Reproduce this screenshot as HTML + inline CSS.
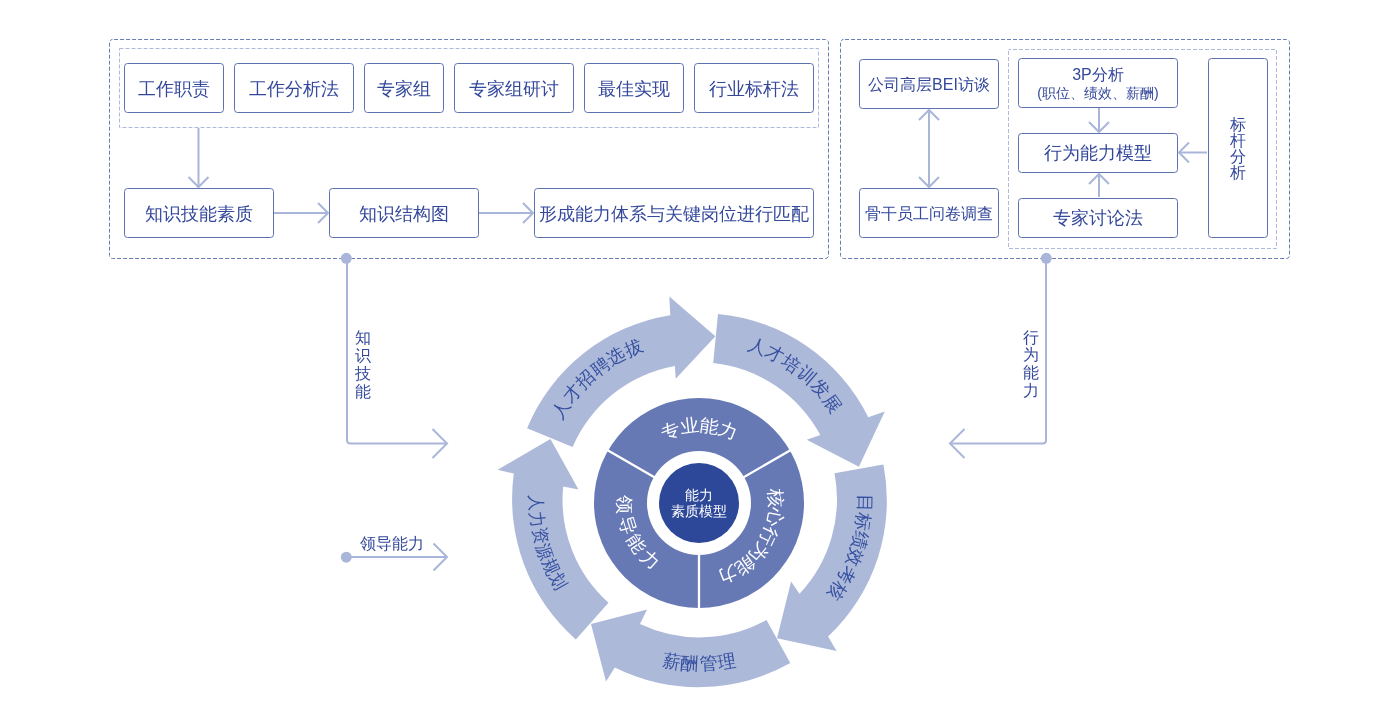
<!DOCTYPE html>
<html><head><meta charset="utf-8"><style>
html,body{margin:0;padding:0;background:#fff;width:1400px;height:705px;overflow:hidden}
svg{display:block;will-change:transform;font-family:"Liberation Sans",sans-serif}
</style></head><body>
<svg width="1400" height="705" viewBox="0 0 1400 705">
<defs></defs>
<rect x="109.5" y="39.5" width="719" height="219" rx="3" fill="none" stroke="#6a7cb6" stroke-width="1" stroke-dasharray="4 2" stroke-dashoffset="4.4"/>
<rect x="840.5" y="39.5" width="449" height="219" rx="3" fill="none" stroke="#6a7cb6" stroke-width="1" stroke-dasharray="4 2" stroke-dashoffset="4.43"/>
<rect x="119.5" y="48.5" width="699" height="79" fill="none" stroke="#aeb8da" stroke-width="1" stroke-dasharray="4 2"/>
<rect x="1008.5" y="49.5" width="268" height="199" fill="none" stroke="#aeb8da" stroke-width="1" stroke-dasharray="4 2" stroke-dashoffset="1.5"/>
<rect x="124.5" y="63.5" width="99" height="49" rx="3" fill="#fff" stroke="#5d70b0" stroke-width="1"/>
<text x="174.0" y="88.8" font-size="18" fill="#34489b" text-anchor="middle" dominant-baseline="central" >工作职责</text>
<rect x="234.5" y="63.5" width="119" height="49" rx="3" fill="#fff" stroke="#5d70b0" stroke-width="1"/>
<text x="294.0" y="88.8" font-size="18" fill="#34489b" text-anchor="middle" dominant-baseline="central" >工作分析法</text>
<rect x="364.5" y="63.5" width="79" height="49" rx="3" fill="#fff" stroke="#5d70b0" stroke-width="1"/>
<text x="404.0" y="88.8" font-size="18" fill="#34489b" text-anchor="middle" dominant-baseline="central" >专家组</text>
<rect x="454.5" y="63.5" width="119" height="49" rx="3" fill="#fff" stroke="#5d70b0" stroke-width="1"/>
<text x="514.0" y="88.8" font-size="18" fill="#34489b" text-anchor="middle" dominant-baseline="central" >专家组研讨</text>
<rect x="584.5" y="63.5" width="99" height="49" rx="3" fill="#fff" stroke="#5d70b0" stroke-width="1"/>
<text x="634.0" y="88.8" font-size="18" fill="#34489b" text-anchor="middle" dominant-baseline="central" >最佳实现</text>
<rect x="694.5" y="63.5" width="119" height="49" rx="3" fill="#fff" stroke="#5d70b0" stroke-width="1"/>
<text x="754.0" y="88.8" font-size="18" fill="#34489b" text-anchor="middle" dominant-baseline="central" >行业标杆法</text>
<rect x="124.5" y="188.5" width="149" height="49" rx="3" fill="#fff" stroke="#5d70b0" stroke-width="1"/>
<text x="199.0" y="213.6" font-size="18" fill="#34489b" text-anchor="middle" dominant-baseline="central" >知识技能素质</text>
<rect x="329.5" y="188.5" width="149" height="49" rx="3" fill="#fff" stroke="#5d70b0" stroke-width="1"/>
<text x="404.0" y="213.6" font-size="18" fill="#34489b" text-anchor="middle" dominant-baseline="central" >知识结构图</text>
<rect x="534.5" y="188.5" width="279" height="49" rx="3" fill="#fff" stroke="#5d70b0" stroke-width="1"/>
<text x="674.0" y="213.6" font-size="18" fill="#34489b" text-anchor="middle" dominant-baseline="central" >形成能力体系与关键岗位进行匹配</text>
<line x1="198.5" y1="128" x2="198.5" y2="187" stroke="#aab6d9" stroke-width="2"/>
<polyline points="188.5,177 198.5,187 208.5,177" fill="none" stroke="#aab6d9" stroke-width="2"/>
<line x1="274" y1="213" x2="328" y2="213" stroke="#aab6d9" stroke-width="2"/>
<polyline points="318,223 328,213 318,203" fill="none" stroke="#aab6d9" stroke-width="2"/>
<line x1="479" y1="213" x2="533" y2="213" stroke="#aab6d9" stroke-width="2"/>
<polyline points="523,223 533,213 523,203" fill="none" stroke="#aab6d9" stroke-width="2"/>
<rect x="859.5" y="59.5" width="139" height="49" rx="3" fill="#fff" stroke="#5d70b0" stroke-width="1"/>
<text x="929" y="84" font-size="16" fill="#34489b" text-anchor="middle" dominant-baseline="central" >公司高层BEI访谈</text>
<rect x="859.5" y="188.5" width="139" height="49" rx="3" fill="#fff" stroke="#5d70b0" stroke-width="1"/>
<text x="929" y="213" font-size="16" fill="#34489b" text-anchor="middle" dominant-baseline="central" >骨干员工问卷调查</text>
<line x1="929" y1="110" x2="929" y2="187" stroke="#aab6d9" stroke-width="2"/>
<polyline points="939,120 929,110 919,120" fill="none" stroke="#aab6d9" stroke-width="2"/>
<polyline points="919,177 929,187 939,177" fill="none" stroke="#aab6d9" stroke-width="2"/>
<rect x="1018.5" y="58.5" width="159" height="49" rx="3" fill="#fff" stroke="#5d70b0" stroke-width="1"/>
<text x="1098" y="74.5" font-size="16" fill="#34489b" text-anchor="middle" dominant-baseline="central" >3P分析</text>
<text x="1098" y="93" font-size="14" fill="#34489b" text-anchor="middle" dominant-baseline="central" >(职位、绩效、薪酬)</text>
<rect x="1018.5" y="133.5" width="159" height="39" rx="3" fill="#fff" stroke="#5d70b0" stroke-width="1"/>
<text x="1098" y="153" font-size="18" fill="#34489b" text-anchor="middle" dominant-baseline="central" >行为能力模型</text>
<rect x="1018.5" y="198.5" width="159" height="39" rx="3" fill="#fff" stroke="#5d70b0" stroke-width="1"/>
<text x="1098" y="218" font-size="18" fill="#34489b" text-anchor="middle" dominant-baseline="central" >专家讨论法</text>
<rect x="1208.5" y="58.5" width="59" height="179" rx="3" fill="#fff" stroke="#5d70b0" stroke-width="1"/>
<text x="1238" y="124" font-size="16" fill="#34489b" text-anchor="middle" dominant-baseline="central" >标</text>
<text x="1238" y="140" font-size="16" fill="#34489b" text-anchor="middle" dominant-baseline="central" >杆</text>
<text x="1238" y="156" font-size="16" fill="#34489b" text-anchor="middle" dominant-baseline="central" >分</text>
<text x="1238" y="172" font-size="16" fill="#34489b" text-anchor="middle" dominant-baseline="central" >析</text>
<line x1="1099" y1="108" x2="1099" y2="132" stroke="#aab6d9" stroke-width="2"/>
<polyline points="1089,122 1099,132 1109,122" fill="none" stroke="#aab6d9" stroke-width="2"/>
<line x1="1099" y1="174" x2="1099" y2="197" stroke="#aab6d9" stroke-width="2"/>
<polyline points="1109,184 1099,174 1089,184" fill="none" stroke="#aab6d9" stroke-width="2"/>
<line x1="1179" y1="152.5" x2="1207" y2="152.5" stroke="#aab6d9" stroke-width="2"/>
<polyline points="1189,142.5 1179,152.5 1189,162.5" fill="none" stroke="#aab6d9" stroke-width="2"/>
<path d="M347,258 V440 Q347,443.5 350.5,443.5 H447" fill="none" stroke="#aab6d9" stroke-width="2"/>
<polyline points="432.5,458.0 447,443.5 432.5,429.0" fill="none" stroke="#aab6d9" stroke-width="2"/>
<circle cx="346.3" cy="258.3" r="5.5" fill="#aab6d9"/>
<text x="363" y="337" font-size="16" fill="#34489b" text-anchor="middle" dominant-baseline="central" >知</text>
<text x="363" y="355" font-size="16" fill="#34489b" text-anchor="middle" dominant-baseline="central" >识</text>
<text x="363" y="373" font-size="16" fill="#34489b" text-anchor="middle" dominant-baseline="central" >技</text>
<text x="363" y="391" font-size="16" fill="#34489b" text-anchor="middle" dominant-baseline="central" >能</text>
<path d="M1046,258 V440 Q1046,443.5 1042.5,443.5 H950" fill="none" stroke="#aab6d9" stroke-width="2"/>
<polyline points="964.5,429.0 950,443.5 964.5,458.0" fill="none" stroke="#aab6d9" stroke-width="2"/>
<circle cx="1046.3" cy="258.3" r="5.5" fill="#aab6d9"/>
<text x="1031" y="337.0" font-size="16" fill="#34489b" text-anchor="middle" dominant-baseline="central" >行</text>
<text x="1031" y="354.7" font-size="16" fill="#34489b" text-anchor="middle" dominant-baseline="central" >为</text>
<text x="1031" y="372.4" font-size="16" fill="#34489b" text-anchor="middle" dominant-baseline="central" >能</text>
<text x="1031" y="390.1" font-size="16" fill="#34489b" text-anchor="middle" dominant-baseline="central" >力</text>
<line x1="346" y1="557" x2="447" y2="557" stroke="#aab6d9" stroke-width="2"/>
<polyline points="433.5,570.5 447,557 433.5,543.5" fill="none" stroke="#aab6d9" stroke-width="2"/>
<circle cx="346.3" cy="557.2" r="5.5" fill="#aab6d9"/>
<text x="391.5" y="543.5" font-size="16" fill="#34489b" text-anchor="middle" dominant-baseline="central" >领导能力</text>
<path d="M527.1,428.2 A187,187 0 0 1 670.3,315.2 L669.3,296.5 L715.4,336.2 L675.7,378.7 L674.9,366 A138,138 0 0 0 572.6,446.9 Z" fill="#adb9d9"/>
<path d="M718,314 A187,187 0 0 1 868.3,417.3 L884.8,411.4 L858.9,466.7 L806.7,439.8 L820.3,435 A138,138 0 0 0 713.2,363.1 Z" fill="#adb9d9"/>
<path d="M883.4,464.6 A187,187 0 0 1 828.1,636.6 L836.6,651.1 L777,638.3 L791.1,581.6 L799.5,593.7 A138,138 0 0 0 834.5,473.2 Z" fill="#adb9d9"/>
<path d="M790.3,663 A187,187 0 0 1 614.8,667.4 L606,681.5 L591,624.1 L647.1,609.5 L640,624.1 A138,138 0 0 0 766.5,619.9 Z" fill="#adb9d9"/>
<path d="M575.8,639.4 A187,187 0 0 1 513.8,473.6 L497.7,469.7 L550.4,439.1 L578.5,489.4 L563.2,486.4 A138,138 0 0 0 608.5,602.7 Z" fill="#adb9d9"/>
<text transform="translate(560.75,409.02) rotate(-56.65) scale(1.0,1)" font-size="18" fill="#3550a0" text-anchor="middle" dominant-baseline="central">人</text>
<text transform="translate(572.24,393.60) rotate(-49.99) scale(1.0,1)" font-size="18" fill="#3550a0" text-anchor="middle" dominant-baseline="central">才</text>
<text transform="translate(585.43,379.61) rotate(-43.33) scale(1.0,1)" font-size="18" fill="#3550a0" text-anchor="middle" dominant-baseline="central">招</text>
<text transform="translate(600.16,367.25) rotate(-36.67) scale(1.0,1)" font-size="18" fill="#3550a0" text-anchor="middle" dominant-baseline="central">聘</text>
<text transform="translate(616.22,356.69) rotate(-30.01) scale(1.0,1)" font-size="18" fill="#3550a0" text-anchor="middle" dominant-baseline="central">选</text>
<text transform="translate(633.40,348.05) rotate(-23.35) scale(1.0,1)" font-size="18" fill="#3550a0" text-anchor="middle" dominant-baseline="central">拔</text>
<text transform="translate(757.15,346.12) rotate(20.70) scale(1.0,1)" font-size="18" fill="#3550a0" text-anchor="middle" dominant-baseline="central">人</text>
<text transform="translate(774.65,353.93) rotate(27.38) scale(1.0,1)" font-size="18" fill="#3550a0" text-anchor="middle" dominant-baseline="central">才</text>
<text transform="translate(791.13,363.72) rotate(34.06) scale(1.0,1)" font-size="18" fill="#3550a0" text-anchor="middle" dominant-baseline="central">培</text>
<text transform="translate(806.36,375.36) rotate(40.74) scale(1.0,1)" font-size="18" fill="#3550a0" text-anchor="middle" dominant-baseline="central">训</text>
<text transform="translate(820.13,388.70) rotate(47.42) scale(1.0,1)" font-size="18" fill="#3550a0" text-anchor="middle" dominant-baseline="central">发</text>
<text transform="translate(832.25,403.54) rotate(54.10) scale(1.0,1)" font-size="18" fill="#3550a0" text-anchor="middle" dominant-baseline="central">展</text>
<text transform="translate(864.47,502.89) rotate(91.00) scale(1.0,1)" font-size="18" fill="#3550a0" text-anchor="middle" dominant-baseline="central">目</text>
<text transform="translate(863.11,521.43) rotate(97.44) scale(1.0,1)" font-size="18" fill="#3550a0" text-anchor="middle" dominant-baseline="central">标</text>
<text transform="translate(859.67,539.70) rotate(103.88) scale(1.0,1)" font-size="18" fill="#3550a0" text-anchor="middle" dominant-baseline="central">绩</text>
<text transform="translate(854.20,557.47) rotate(110.32) scale(1.0,1)" font-size="18" fill="#3550a0" text-anchor="middle" dominant-baseline="central">效</text>
<text transform="translate(846.78,574.52) rotate(116.76) scale(1.0,1)" font-size="18" fill="#3550a0" text-anchor="middle" dominant-baseline="central">考</text>
<text transform="translate(837.48,590.62) rotate(123.20) scale(1.0,1)" font-size="18" fill="#3550a0" text-anchor="middle" dominant-baseline="central">核</text>
<text transform="translate(671.52,661.68) rotate(9.64) scale(1.0,1)" font-size="18" fill="#3550a0" text-anchor="middle" dominant-baseline="central">薪</text>
<text transform="translate(689.80,663.74) rotate(3.22) scale(1.0,1)" font-size="18" fill="#3550a0" text-anchor="middle" dominant-baseline="central">酬</text>
<text transform="translate(708.20,663.74) rotate(-3.22) scale(1.0,1)" font-size="18" fill="#3550a0" text-anchor="middle" dominant-baseline="central">管</text>
<text transform="translate(726.48,661.68) rotate(-9.64) scale(1.0,1)" font-size="18" fill="#3550a0" text-anchor="middle" dominant-baseline="central">理</text>
<text transform="translate(536.02,502.84) rotate(89.00) scale(0.9,1)" font-size="18" fill="#3550a0" text-anchor="middle" dominant-baseline="central">人</text>
<text transform="translate(537.15,519.30) rotate(83.20) scale(0.9,1)" font-size="18" fill="#3550a0" text-anchor="middle" dominant-baseline="central">力</text>
<text transform="translate(539.93,535.56) rotate(77.40) scale(0.9,1)" font-size="18" fill="#3550a0" text-anchor="middle" dominant-baseline="central">资</text>
<text transform="translate(544.33,551.45) rotate(71.60) scale(0.9,1)" font-size="18" fill="#3550a0" text-anchor="middle" dominant-baseline="central">源</text>
<text transform="translate(550.32,566.82) rotate(65.80) scale(0.9,1)" font-size="18" fill="#3550a0" text-anchor="middle" dominant-baseline="central">规</text>
<text transform="translate(557.84,581.50) rotate(60.00) scale(0.9,1)" font-size="18" fill="#3550a0" text-anchor="middle" dominant-baseline="central">划</text>
<circle cx="699" cy="503" r="105" fill="#6779b5"/>
<line x1="699" y1="503" x2="794.26" y2="448.00" stroke="#fff" stroke-width="2.3"/>
<line x1="699" y1="503" x2="699.00" y2="613.00" stroke="#fff" stroke-width="2.3"/>
<line x1="699" y1="503" x2="603.74" y2="448.00" stroke="#fff" stroke-width="2.3"/>
<circle cx="699" cy="503" r="52" fill="#fff"/>
<circle cx="699" cy="503" r="40" fill="#2d4799"/>
<text transform="translate(670.80,430.28) rotate(-21.20) scale(1.05,1)" font-size="18" fill="#fff" text-anchor="middle" dominant-baseline="central">专</text>
<text transform="translate(689.68,425.56) rotate(-6.87) scale(1.05,1)" font-size="18" fill="#fff" text-anchor="middle" dominant-baseline="central">业</text>
<text transform="translate(709.13,425.66) rotate(7.47) scale(1.05,1)" font-size="18" fill="#fff" text-anchor="middle" dominant-baseline="central">能</text>
<text transform="translate(727.96,430.58) rotate(21.80) scale(1.05,1)" font-size="18" fill="#fff" text-anchor="middle" dominant-baseline="central">力</text>
<text transform="translate(776.35,498.20) rotate(86.45) scale(1.05,1)" font-size="18" fill="#fff" text-anchor="middle" dominant-baseline="central">核</text>
<text transform="translate(775.14,517.46) rotate(100.75) scale(1.05,1)" font-size="18" fill="#fff" text-anchor="middle" dominant-baseline="central">心</text>
<text transform="translate(769.21,535.81) rotate(115.05) scale(1.05,1)" font-size="18" fill="#fff" text-anchor="middle" dominant-baseline="central">行</text>
<text transform="translate(758.93,552.14) rotate(129.35) scale(1.05,1)" font-size="18" fill="#fff" text-anchor="middle" dominant-baseline="central">为</text>
<text transform="translate(744.94,565.42) rotate(143.65) scale(1.05,1)" font-size="18" fill="#fff" text-anchor="middle" dominant-baseline="central">能</text>
<text transform="translate(728.09,574.83) rotate(157.95) scale(1.05,1)" font-size="18" fill="#fff" text-anchor="middle" dominant-baseline="central">力</text>
<text transform="translate(624.51,504.11) rotate(89.15) scale(1.05,1)" font-size="18" fill="#fff" text-anchor="middle" dominant-baseline="central">领</text>
<text transform="translate(627.74,524.72) rotate(73.05) scale(1.05,1)" font-size="18" fill="#fff" text-anchor="middle" dominant-baseline="central">导</text>
<text transform="translate(636.55,543.63) rotate(56.95) scale(1.05,1)" font-size="18" fill="#fff" text-anchor="middle" dominant-baseline="central">能</text>
<text transform="translate(650.27,559.35) rotate(40.85) scale(1.05,1)" font-size="18" fill="#fff" text-anchor="middle" dominant-baseline="central">力</text>
<text x="699" y="495" font-size="13.5" fill="#fff" text-anchor="middle" dominant-baseline="central" >能力</text>
<text x="699" y="511.5" font-size="13.5" fill="#fff" text-anchor="middle" dominant-baseline="central" >素质模型</text>
</svg>
</body></html>
